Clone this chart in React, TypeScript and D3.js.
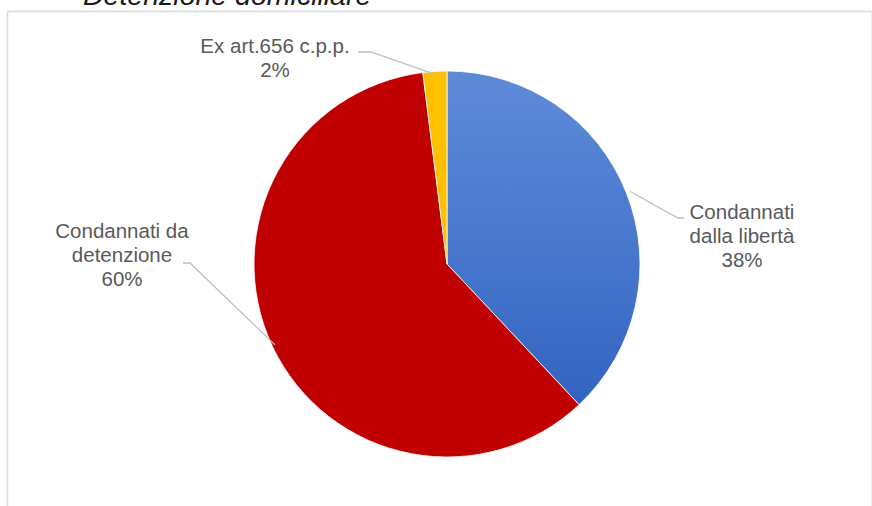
import React from "react";
import * as d3 from "d3";

const categories = ["Condannati dalla libertà", "Condannati da detenzione", "Ex art.656 c.p.p."];
const values = [38, 60, 2];
const labelLines = [["Condannati", "dalla libertà"], ["Condannati da", "detenzione"], ["Ex art.656 c.p.p."]];
const percentLabels = ["38%", "60%", "2%"];
const title = "Detenzione domiciliare";

const W = 872;
const H = 506;
const cx = 447;
const cy = 264;
const R = 193;

// label layout: center x, first baseline, leader attach point (x,y) and elbow x
const labelLayout = [
  { x: 742, y: 219, ax: 684, ay: 218, ex: 678 },
  { x: 122, y: 238, ax: 183, ay: 263, ex: 190 },
  { x: 275, y: 53, ax: 358, ay: 52, ex: 371 },
];

const fills = ["url(#blueGrad)", "#C00000", "#FFC000"];

export default function App() {
  const pie = d3.pie<number>().sort(null).value((d) => d);
  const arcs = pie(values);
  const arc = d3.arc<d3.PieArcDatum<number>>().innerRadius(0).outerRadius(R);
  const lineH = 24;

  return (
    <svg width={W} height={H} style={{ position: "absolute", left: 0, top: 0, background: "#fff" }}
      fontFamily="'Liberation Sans', Arial, sans-serif">
      <defs>
        <linearGradient id="blueGrad" x1="0" y1={-R} x2="0" y2={R} gradientUnits="userSpaceOnUse">
          <stop offset="0" stopColor="#5E8AD8" />
          <stop offset="0.5" stopColor="#4676CC" />
          <stop offset="1" stopColor="#2C5BBE" />
        </linearGradient>
      </defs>
      <rect x={0} y={0} width={W} height={H} fill="#fff" />
      {/* chart frame */}
      <line x1={7.5} y1={11.5} x2={W} y2={11.5} stroke="#d9d9d9" strokeWidth={1.5} />
      <line x1={7.5} y1={11.5} x2={7.5} y2={H} stroke="#d9d9d9" strokeWidth={1.5} />
      <line x1={W - 0.5} y1={11.5} x2={W - 0.5} y2={H} stroke="#eeeeee" strokeWidth={1} />
      <text x={83} y={5} fontSize={28.5} fontStyle="italic" fill="#1a1a1a">{title}</text>
      <g transform={`translate(${cx},${cy})`}>
        {arcs.map((a, i) => (
          <path key={categories[i]} d={arc(a) || ""} fill={fills[i]} stroke="#fff" strokeWidth={0.8} />
        ))}
      </g>
      {arcs.map((a, i) => {
        const mid = (a.startAngle + a.endAngle) / 2;
        const rr = i === 0 ? R + 4 : R - 3;
        const px = cx + Math.sin(mid) * rr;
        const py = cy - Math.cos(mid) * rr;
        const L = labelLayout[i];
        return (
          <polyline key={"l" + i} points={`${L.ax},${L.ay} ${L.ex},${L.ay} ${px},${py}`}
            fill="none" stroke="#bfbfbf" strokeWidth={1.3} />
        );
      })}
      {arcs.map((a, i) => {
        const L = labelLayout[i];
        const lines = [...labelLines[i], percentLabels[i]];
        return (
          <text key={"t" + i} x={L.x} y={L.y} textAnchor="middle" fontSize={20.5} fill="#595959">
            {lines.map((s, k) => (
              <tspan key={k} x={L.x} y={L.y + k * lineH}>{s}</tspan>
            ))}
          </text>
        );
      })}
    </svg>
  );
}
